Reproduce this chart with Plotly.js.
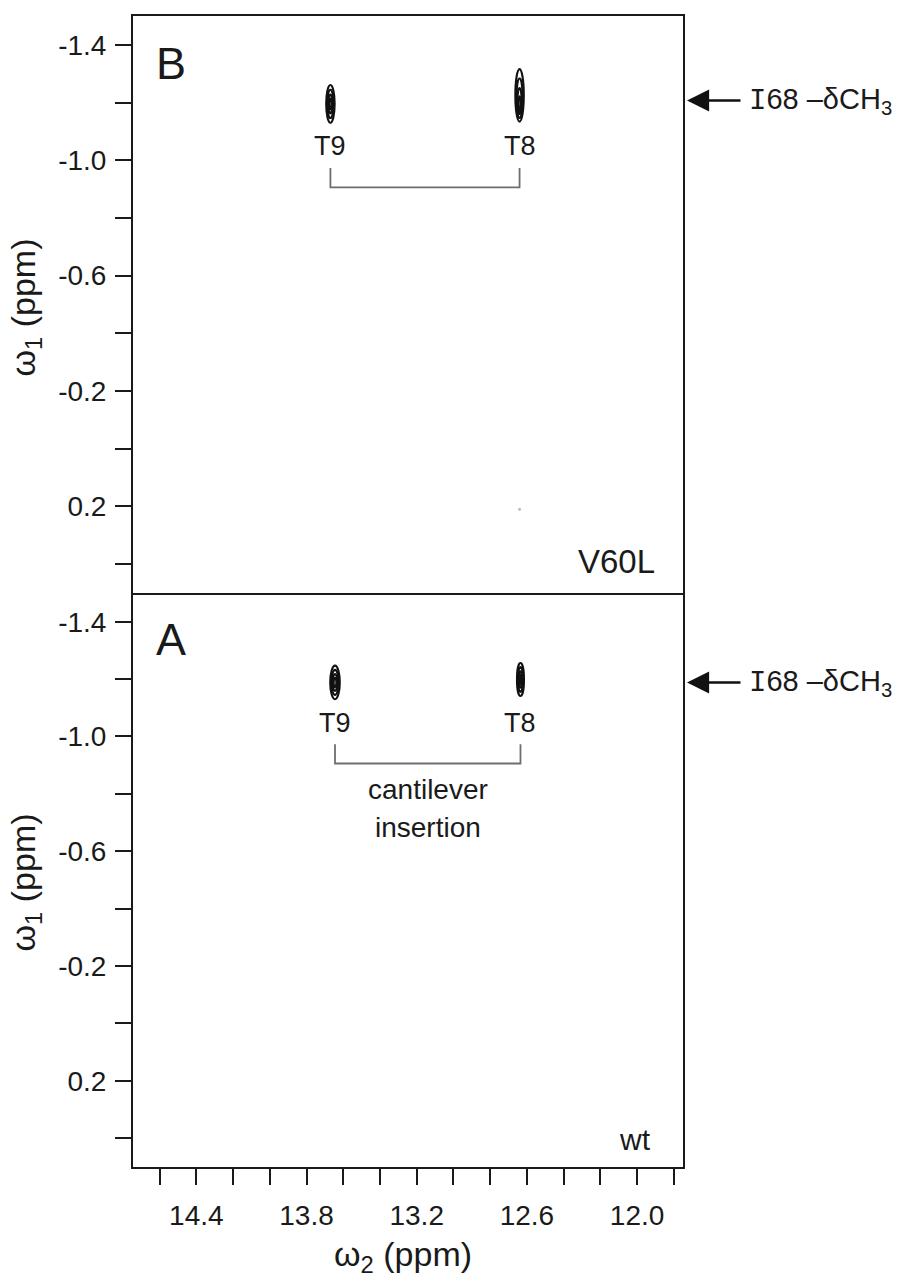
<!DOCTYPE html>
<html>
<head>
<meta charset="utf-8">
<script src="https://cdn.plot.ly/plotly-3.0.1.min.js"></script>
<style>html,body{margin:0;padding:0;background:#fff;}</style>
</head>
<body>
<div id="chart" style="width:903px;height:1279px;"></div>
<script>
// ---- data ----
const peakLabels = ['T9', 'T8'];
// Panel B (V60L): peak maxima and outer contour extents (ppm)
const bOmega2 = [13.67, 12.64];
const bOmega1 = [-1.195, -1.185];
const bOuterTop = [-1.261, -1.316];
const bOuterBottom = [-1.130, -1.134];
const bHalfWidth2 = [0.023, 0.023];
// Panel A (wt)
const aOmega2 = [13.645, 12.635];
const aOmega1 = [-1.188, -1.199];
const aOuterTop = [-1.247, -1.256];
const aOuterBottom = [-1.130, -1.141];
const aHalfWidth2 = [0.026, 0.019];
// contour levels (fraction of outer contour)
const contourLevels = [1.0, 0.75, 0.5, 0.28];
// weak noise point in panel B
const noiseOmega2 = [12.64];
const noiseOmega1 = [0.21];
// axes ticks
const xTickVals = [14.6, 14.4, 14.2, 14.0, 13.8, 13.6, 13.4, 13.2, 13.0, 12.8, 12.6, 12.4, 12.2, 12.0, 11.8];
const xTickText = ['', '14.4', '', '', '13.8', '', '', '13.2', '', '', '12.6', '', '', '12.0', ''];
const yTickVals = [-1.4, -1.2, -1.0, -0.8, -0.6, -0.4, -0.2, 0.0, 0.2, 0.4];
const yTickText = ['-1.4', '', '-1.0', '', '-0.6', '', '-0.2', '', '0.2', ''];
const assignment = 'I68';

// ---- styling ----
const FONT = 'Liberation Sans, Arial, Helvetica, sans-serif';
const INK = '#1a1a1a';
const tickFont = {family: FONT, size: 28, color: INK};

const shapes = [];
function addPeaks(xs, ymax, ytop, ybot, hw, xref, yref) {
  for (let i = 0; i < xs.length; i++) {
    contourLevels.forEach(f => {
      shapes.push({
        type: 'circle', xref: xref, yref: yref,
        x0: xs[i] - hw[i] * f, x1: xs[i] + hw[i] * f,
        y0: ymax[i] + (ytop[i] - ymax[i]) * f,
        y1: ymax[i] + (ybot[i] - ymax[i]) * f,
        line: {color: '#111', width: 2.1}, fillcolor: 'rgba(0,0,0,0)'
      });
    });
  }
}
addPeaks(bOmega2, bOmega1, bOuterTop, bOuterBottom, bHalfWidth2, 'x2', 'y2');
addPeaks(aOmega2, aOmega1, aOuterTop, aOuterBottom, aHalfWidth2, 'x', 'y');

function bracket(xs, xref, yref) {
  const yTop = -0.973, yBase = -0.906;
  shapes.push({
    type: 'path', xref: xref, yref: yref,
    path: `M ${xs[0]} ${yTop} L ${xs[0]} ${yBase} L ${xs[1]} ${yBase} L ${xs[1]} ${yTop}`,
    line: {color: '#6e6e6e', width: 1.8}
  });
}
bracket(bOmega2, 'x2', 'y2');
bracket(aOmega2, 'x', 'y');

const annotations = [];
function peakLabelAnn(xs, xref, yref) {
  xs.forEach((x, i) => annotations.push({
    x: x, y: -1.048, xref: xref, yref: yref, text: peakLabels[i], showarrow: false,
    font: {family: FONT, size: 27, color: INK}, xanchor: 'center', yanchor: 'middle'
  }));
}
peakLabelAnn(bOmega2, 'x2', 'y2');
peakLabelAnn(aOmega2, 'x', 'y');

const mid = (aOmega2[0] + aOmega2[1]) / 2;
annotations.push({x: mid, y: -0.814, xref: 'x', yref: 'y', text: 'cantilever', showarrow: false,
  font: {family: FONT, size: 28, color: INK}});
annotations.push({x: mid, y: -0.682, xref: 'x', yref: 'y', text: 'insertion', showarrow: false,
  font: {family: FONT, size: 28, color: INK}});

// panel letters and sample names
annotations.push({x: 0.069, y: 0.9587, xref: 'paper', yref: 'paper', text: 'B', showarrow: false,
  font: {family: FONT, size: 45, color: INK}, xanchor: 'center', yanchor: 'middle'});
annotations.push({x: 0.069, y: 0.4587, xref: 'paper', yref: 'paper', text: 'A', showarrow: false,
  font: {family: FONT, size: 45, color: INK}, xanchor: 'center', yanchor: 'middle'});
annotations.push({x: 0.9527, y: 0.526, xref: 'paper', yref: 'paper', text: 'V60L', showarrow: false,
  font: {family: FONT, size: 33, color: INK}, xanchor: 'right', yanchor: 'middle'});
annotations.push({x: 0.9455, y: 0.024, xref: 'paper', yref: 'paper', text: 'wt', showarrow: false,
  font: {family: FONT, size: 30, color: INK}, xanchor: 'right', yanchor: 'middle'});

// axis titles
const w1 = '\u03c9<sub>1</sub> (ppm)';
annotations.push({x: -0.195, y: 0.7465, xref: 'paper', yref: 'paper', text: w1, showarrow: false, textangle: -90,
  font: {family: FONT, size: 34, color: INK}, xanchor: 'center', yanchor: 'middle'});
annotations.push({x: -0.195, y: 0.247, xref: 'paper', yref: 'paper', text: w1, showarrow: false, textangle: -90,
  font: {family: FONT, size: 34, color: INK}, xanchor: 'center', yanchor: 'middle'});
annotations.push({x: 0.49, y: -0.0775, xref: 'paper', yref: 'paper', text: '\u03c9<sub>2</sub> (ppm)', showarrow: false,
  font: {family: FONT, size: 34, color: INK}, xanchor: 'center', yanchor: 'middle'});

// I68 delta-CH3 arrows
function arrowAnn(yval, yref) {
  annotations.push({x: 1.0073, y: yval, xref: 'paper', yref: yref, ax: 55, ay: 0, text: '',
    showarrow: true, arrowhead: 2, arrowsize: 1.7, arrowwidth: 2.6, arrowcolor: '#111'});
  annotations.push({x: 1.1164, y: yval, xref: 'paper', yref: yref, showarrow: false, xanchor: 'left', yanchor: 'middle',
    text: '<span style="font-family:Liberation Mono">' + assignment.charAt(0) + '</span>' + assignment.slice(1) +
          ' \u2013\u03b4CH<sub>3</sub>',
    font: {family: FONT, size: 29, color: INK}});
}
arrowAnn(-1.207, 'y2');
arrowAnn(-1.188, 'y');

const traces = [
  {x: noiseOmega2, y: noiseOmega1, xaxis: 'x2', yaxis: 'y2', mode: 'markers',
   marker: {size: 3, color: '#bbbbbb'}, hoverinfo: 'skip', showlegend: false},
  {x: aOmega2, y: aOmega1, xaxis: 'x', yaxis: 'y', mode: 'markers',
   marker: {size: 1, color: 'rgba(0,0,0,0)'}, hoverinfo: 'skip', showlegend: false}
];

const yCommon = {
  range: [0.5, -1.5], tickvals: yTickVals, ticktext: yTickText,
  ticks: 'outside', ticklen: 16, tickwidth: 2, tickcolor: INK,
  showline: true, mirror: true, linewidth: 2, linecolor: INK,
  showgrid: false, zeroline: false, tickfont: tickFont, ticklabelstandoff: 3
};
const split = 0.4987;
const layout = {
  width: 903, height: 1279,
  margin: {l: 133, r: 220, t: 16, b: 112},
  paper_bgcolor: '#fff', plot_bgcolor: '#fff',
  showlegend: false,
  xaxis: {
    range: [14.745, 11.75], anchor: 'y', domain: [0, 1],
    tickvals: xTickVals, ticktext: xTickText,
    ticks: 'outside', ticklen: 16, tickwidth: 2, tickcolor: INK,
    showline: true, mirror: false, linewidth: 2, linecolor: INK,
    showgrid: false, zeroline: false, tickfont: tickFont, ticklabelstandoff: 6
  },
  xaxis2: {
    range: [14.745, 11.75], anchor: 'y2', matches: 'x', domain: [0, 1],
    showticklabels: false, ticks: '',
    showline: true, mirror: true, linewidth: 2, linecolor: INK,
    showgrid: false, zeroline: false
  },
  yaxis: Object.assign({}, yCommon, {domain: [0, split], anchor: 'x'}),
  yaxis2: Object.assign({}, yCommon, {domain: [split, 1], anchor: 'x2'}),
  shapes: shapes,
  annotations: annotations
};

Plotly.newPlot('chart', traces, layout, {staticPlot: true, displayModeBar: false});
</script>
</body>
</html>
